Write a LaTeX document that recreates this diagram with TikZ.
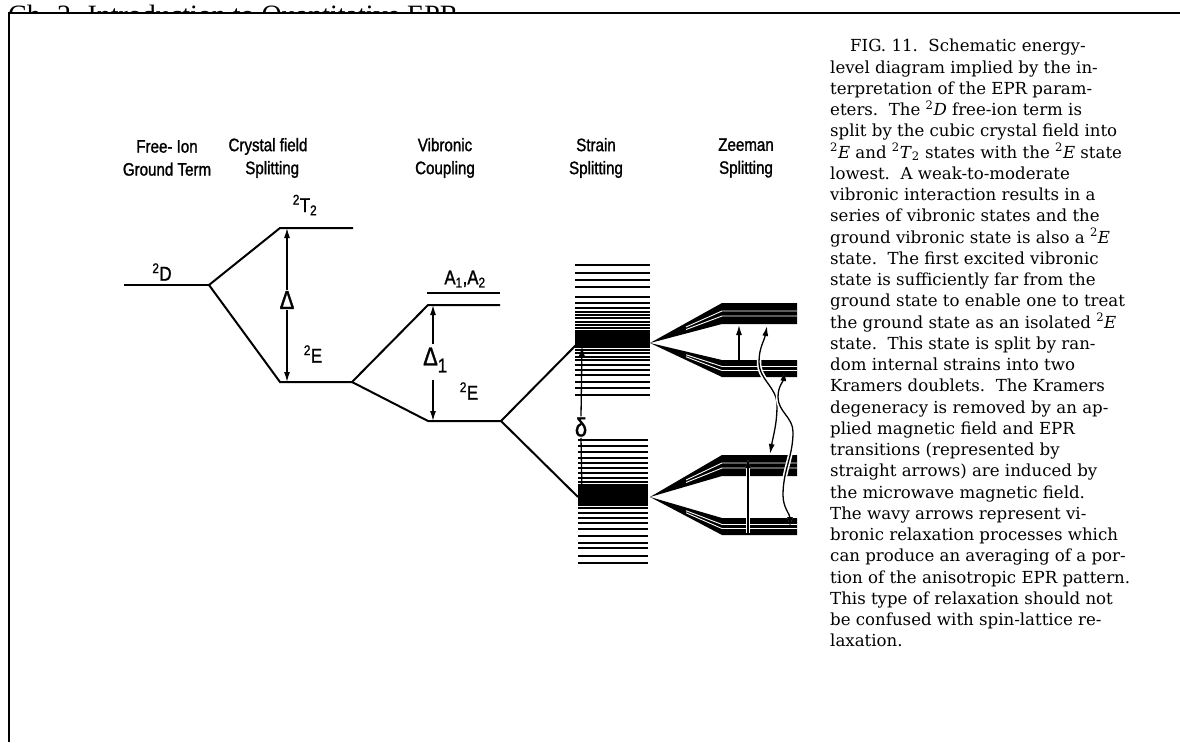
\documentclass[tikz,border=0pt]{standalone}
\usepackage{fontspec}
\setmainfont{DejaVu Serif}
\newfontfamily\capfont{DejaVu Serif}
\newfontfamily\labfont[FakeStretch=0.84,FakeBold=1.3]{Liberation Sans}
\newfontfamily\hdrfont{Liberation Serif}
\usetikzlibrary{arrows.meta,calc}

\begin{document}
\begin{tikzpicture}[
  level/.style={draw, line width=2pt},
  arr/.style={draw, -{Latex[length=10pt,width=6pt]}, line width=1.3pt},
  epr/.style={draw, -{Latex[length=10pt,width=6pt]}, line width=1.3pt,
              preaction={draw, white, line width=4.5pt}},
  wavy/.style={draw, {Latex[length=10pt,width=6pt]}-{Latex[length=10pt,width=6pt]},
               line width=1.3pt, preaction={draw, white, line width=4.5pt}},
  headlbl/.style={align=center, font=\labfont\fontsize{18}{23}\selectfont, inner sep=0pt},
  statelbl/.style={font=\labfont\fontsize{20}{22}\selectfont, inner sep=1pt},
  bandline/.style={line width=1.3pt},
]
  \useasboundingbox (0pt,0pt) rectangle (1180pt,-742pt);
  % page header, cut by the figure box
  \node[anchor=base west, font=\hdrfont\fontsize{28}{30}\selectfont, inner sep=0pt] (hdr) at (8pt,-24pt) {Ch. 2. Introduction to Quantitative EPR};
  \fill[white] (9pt,-14pt) rectangle (1180pt,-742pt);
  \draw[line width=2pt] (1180pt,-13pt) -- (9pt,-13pt) -- (9pt,-742pt);

  % column headings
  \node[headlbl] (hfree) at (167pt,-158pt) {Free- Ion\\Ground Term};
  \node[headlbl] (hcf) at (268pt,-158pt) {Crystal field\\\ \ Splitting};
  \node[headlbl] (hvib) at (445pt,-158pt) {Vibronic\\Coupling};
  \node[headlbl] (hstr) at (596pt,-158pt) {Strain\\Splitting};
  \node[headlbl] (hzee) at (746pt,-158pt) {Zeeman\\Splitting};

  % level end points
  \coordinate (d1) at (124pt,-285pt);  \coordinate (d2) at (209pt,-285pt);
  \coordinate (t1) at (280pt,-228pt);  \coordinate (t2) at (353pt,-228pt);
  \coordinate (e1) at (280pt,-382pt);  \coordinate (e2) at (352pt,-382pt);
  \coordinate (a1) at (427pt,-293pt);  \coordinate (a2) at (500pt,-293pt);
  \coordinate (v1) at (428pt,-305pt);  \coordinate (v2) at (500pt,-305pt);
  \coordinate (g1) at (428pt,-421pt);  \coordinate (g2) at (501pt,-421pt);
  \coordinate (su) at (578pt,-343pt);  \coordinate (sl) at (578pt,-497pt);

  \draw[level] (d1) -- (d2);
  \draw[level] (d2) -- (t1) -- (t2);
  \draw[level] (d2) -- (e1) -- (e2);
  \draw[level] (a1) -- (a2);
  \draw[level] (e2) -- (v1) -- (v2);
  \draw[level] (e2) -- (g1) -- (g2);
  \draw[level] (g2) -- (su);
  \draw[level] (g2) -- (sl);

  % labels
  \node[statelbl] (l2d) at (162pt,-272pt) {\textsuperscript{2}D};
  \node[statelbl] (l2t) at (305pt,-205pt) {\textsuperscript{2}T\textsubscript{2}};
  \node[statelbl] (l2e) at (313pt,-354pt) {\textsuperscript{2}E};
  \node[statelbl] (la) at (465pt,-279pt) {A\textsubscript{1},A\textsubscript{2}};
  \node[statelbl] (l2e2) at (469pt,-391pt) {\textsuperscript{2}E};
  \node[statelbl, font=\labfont\fontsize{26}{28}\selectfont] (ldelta) at (287pt,-300pt) {Δ};
  \node[statelbl, font=\labfont\fontsize{26}{28}\selectfont, anchor=west] (ldelta1) at (422pt,-360pt) {Δ\raisebox{-7pt}{\fontsize{20}{22}\selectfont 1}};
  \node[statelbl, font=\labfont\fontsize{26}{28}\selectfont] (lsmall) at (581pt,-427pt) {δ};

  % splitting arrows
  \coordinate (dtop) at (287pt,-228pt); \coordinate (dbot) at (287pt,-382pt);
  \draw[arr] (ldelta.north) -- (dtop);
  \draw[arr] (ldelta.south) -- (dbot);
  \coordinate (d1a) at (433pt,-344pt); \coordinate (d1b) at (433pt,-380pt);
  \coordinate (d1top) at (433pt,-305pt); \coordinate (d1bot) at (433pt,-421pt);
  \draw[arr] (d1a) -- (d1top);
  \draw[arr] (d1b) -- (d1bot);
  \draw[arr] (lsmall.north) -- (582pt,-346pt);
  \draw[arr] (lsmall.south) -- (582pt,-495pt);

  % strain bands
  \foreach \y in {265,273,280,287,297,303,308,312,315,318,322,325,328,331,
                  350,353,357,360,365,370,375,382,388,395}
    \draw[bandline] (575pt,-\y pt) -- (650pt,-\y pt);
  \fill (575pt,-332pt) rectangle (650pt,-348pt);
  \foreach \y in {440,446,452,458,463,468,473,478,482,485,
                  508,513,518,523,529,536,543,548,556,563}
    \draw[bandline] (578pt,-\y pt) -- (648pt,-\y pt);
  \fill (578pt,-486pt) rectangle (648pt,-506pt);

  % Zeeman doublets
  \foreach \f/\t/\b in {343/303/324, 343/360/377, 497/455/476, 497/518/535} {
    \fill (650pt,-\f pt) -- (722pt,-\t pt) -- (797pt,-\t pt)
          -- (797pt,-\b pt) -- (722pt,-\b pt) -- cycle;
    \foreach \q in {0.38,0.62} {
      \pgfmathsetmacro\w{\t+\q*(\b-\t)}
      \draw[white, line width=0.9pt] ($(650pt,-\f pt)!0.5!(722pt,-\w pt)$)
            -- (722pt,-\w pt) -- (797pt,-\w pt);
    }
  }

  % EPR transitions
  \coordinate (up1a) at (739pt,-360pt); \coordinate (up1b) at (739pt,-325pt);
  \coordinate (up2a) at (748pt,-533pt); \coordinate (up2b) at (748pt,-458pt);
  \draw[arr] (up1a) -- (up1b);
  \draw[epr] (up2a) -- (up2b);

  % relaxation
  \coordinate (w1a) at (767pt,-326pt); \coordinate (w1b) at (770pt,-454pt);
  \draw[wavy] (w1a) to[out=-100,in=90] (759pt,-362pt) to[out=-90,in=90]
              (777pt,-405pt) to[out=-90,in=80] (w1b);
  \coordinate (w2a) at (785pt,-371pt); \coordinate (w2b) at (790pt,-527pt);
  \draw[wavy] (w2a) to[out=-100,in=90] (778pt,-397pt) to[out=-90,in=90]
              (793pt,-432pt) to[out=-90,in=90] (783pt,-495pt) to[out=-90,in=90] (w2b);

  % caption
  \node[anchor=north west, align=left, inner sep=0pt,
        font=\capfont\fontsize{16.6}{21.25}\selectfont] (cap) at (830pt,-39pt) {%
  \hspace*{20pt}FIG. 11.\ \ Schematic energy-\\
  level diagram implied by the in-\\
  terpretation of the EPR param-\\
  eters.\ \ The \textsuperscript{2}\textit{D} free-ion term is\\
  split by the cubic crystal field into\\
  \textsuperscript{2}\textit{E} and \textsuperscript{2}\textit{T}\textsubscript{2} states with the \textsuperscript{2}\textit{E} state\\
  lowest.\ \ A weak-to-moderate\\
  vibronic interaction results in a\\
  series of vibronic states and the\\
  ground vibronic state is also a \textsuperscript{2}\textit{E}\\
  state.\ \ The first excited vibronic\\
  state is sufficiently far from the\\
  ground state to enable one to treat\\
  the ground state as an isolated \textsuperscript{2}\textit{E}\\
  state.\ \ This state is split by ran-\\
  dom internal strains into two\\
  Kramers doublets.\ \ The Kramers\\
  degeneracy is removed by an ap-\\
  plied magnetic field and EPR\\
  transitions (represented by\\
  straight arrows) are induced by\\
  the microwave magnetic field.\\
  The wavy arrows represent vi-\\
  bronic relaxation processes which\\
  can produce an averaging of a por-\\
  tion of the anisotropic EPR pattern.\\
  This type of relaxation should not\\
  be confused with spin-lattice re-\\
  laxation.};
\end{tikzpicture}
\end{document}
